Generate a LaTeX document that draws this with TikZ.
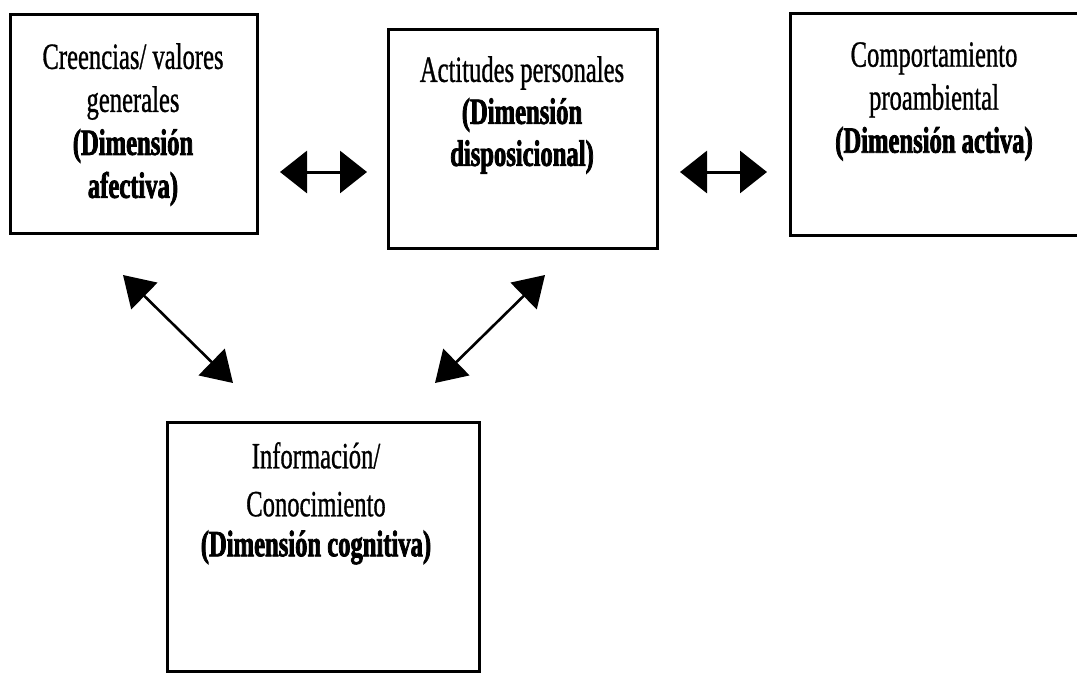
\documentclass[tikz,border=0pt]{standalone}
\usepackage{fontspec}
\setmainfont{Liberation Serif}[FakeStretch=0.665, FakeBold=0.8, BoldFeatures={FakeBold=2}]
\usetikzlibrary{arrows.meta}
\tikzset{
  box/.style={draw=black, line width=3pt, rectangle, inner sep=0pt, outer sep=0pt, anchor=north west},
  txt/.style={align=center, inner sep=0pt, anchor=north, font=\fontsize{37}{43}\selectfont},
  harrow/.style={line width=3pt, {Triangle[length=27pt,width=42pt]}-{Triangle[length=27pt,width=42pt]}},
  darrow/.style={line width=2.6pt, {Triangle[length=30pt,width=37pt]}-{Triangle[length=30pt,width=37pt]}}
}
\begin{document}
\begin{tikzpicture}[x=1pt,y=-1pt]
\useasboundingbox (0,0) rectangle (1077,673);
% boxes
\node[box, minimum width=247pt, minimum height=219pt] (b1) at (10,14) {};
\node[box, minimum width=269pt, minimum height=219pt] (b2) at (388,29) {};
\node[box, minimum width=290pt, minimum height=222pt] (b3) at (790,13) {};
\node[box, minimum width=312pt, minimum height=249pt] (b4) at (167,422) {};
% texts
\node[txt] (t1) at (133,43) {Creencias/ valores\\generales\\\textbf{(Dimensión}\\\textbf{afectiva)}};
\node[txt, font=\fontsize{37}{42}\selectfont] (t2) at (522,56) {Actitudes personales\\\textbf{(Dimensión}\\\textbf{disposicional)}};
\node[txt] (t3) at (934,42) {Comportamiento\\proambiental\\\textbf{(Dimensión activa)}};
\node[txt, font=\fontsize{37}{40}\selectfont] (t4) at (316,442) {Información/\\[8pt]Conocimiento\\\textbf{(Dimensión cognitiva)}};
% arrow end points
\coordinate (h1a) at (280,172);
\coordinate (h1b) at (367,172);
\coordinate (h2a) at (680,172);
\coordinate (h2b) at (767,172);
\coordinate (d1a) at (123,275);
\coordinate (d1b) at (233,383);
\coordinate (d2a) at (545,275);
\coordinate (d2b) at (435,383);
\draw[harrow] (h1a) -- (h1b);
\draw[harrow] (h2a) -- (h2b);
\draw[darrow] (d1a) -- (d1b);
\draw[darrow] (d2a) -- (d2b);
\end{tikzpicture}
\end{document}
